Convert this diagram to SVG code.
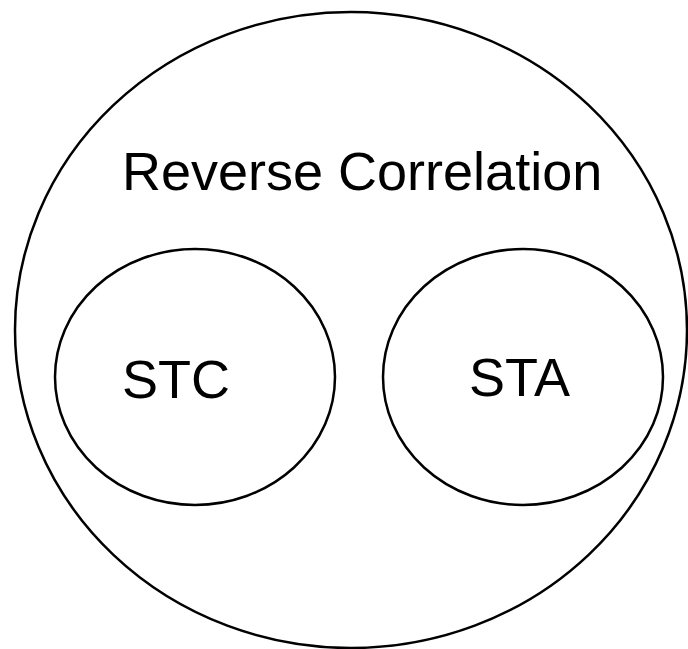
<svg xmlns="http://www.w3.org/2000/svg" width="688" height="649" viewBox="0 0 688 649">
  <style>
    .shape { fill: none; stroke: #000; stroke-width: 2.5; }
    .label { font-family: "Liberation Sans", Arial, sans-serif; font-size: 54px; fill: #000; }
  </style>
  <rect width="688" height="649" fill="#fff"/>
  <g id="reverse-correlation">
    <ellipse class="shape" cx="351" cy="330" rx="336" ry="318"/>
    <text class="label" x="122" y="190">Reverse Correlation</text>
  </g>
  <g id="stc">
    <ellipse class="shape" cx="195" cy="377" rx="140" ry="128"/>
    <text class="label" x="122" y="398">STC</text>
  </g>
  <g id="sta">
    <ellipse class="shape" cx="523" cy="377" rx="140" ry="128"/>
    <text class="label" x="469" y="396">STA</text>
  </g>
  <g id="connectors"/>
</svg>
